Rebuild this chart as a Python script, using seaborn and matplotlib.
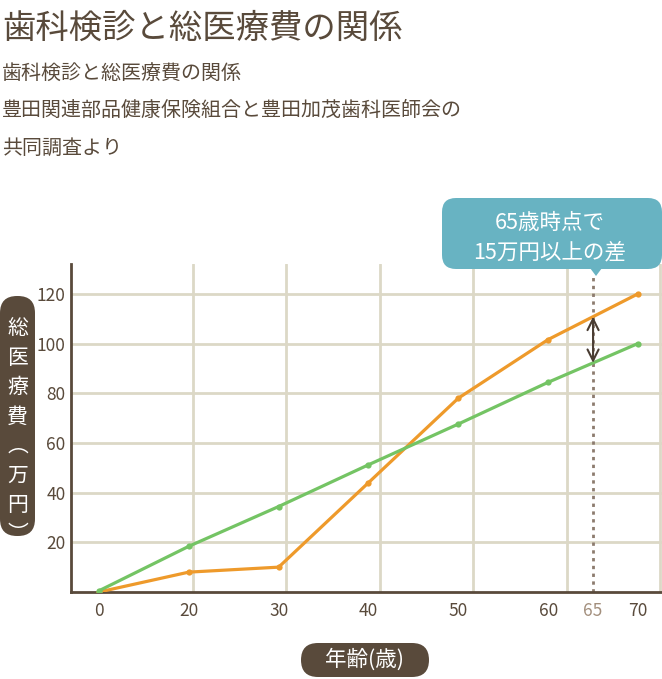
import numpy as np
import pandas as pd
import matplotlib.pyplot as plt
import seaborn as sns
from matplotlib.patches import FancyBboxPatch, Polygon

# data
ages = ['0', '20', '30', '40', '50', '60', '70']
cost_no_checkup = [0, 8, 10, 44, 78, 101.6, 120]
cost_checkup = [0.5, 18.4, 34.4, 51.2, 67.6, 84.4, 100]
yticks = [20, 40, 60, 80, 100, 120]
mark_age = '65'

title = '歯科検診と総医療費の関係'
subtitle = ['歯科検診と総医療費の関係',
            '豊田関連部品健康保険組合と豊田加茂歯科医師会の',
            '共同調査より']
ylabel = '総医療費（万円）'
xlabel = '年齢(歳)'
callout = ['65歳時点で', '15万円以上の差']

BROWN = '#594a3b'
ORANGE = '#ee9a2b'
GREEN = '#74c464'
TEAL = '#68b3c2'
GRID = '#dcd8c6'

sns.set_style('white')
plt.rcParams['font.family'] = ['Noto Sans CJK JP', 'DejaVu Sans']

W, H = 662, 679
fig = plt.figure(figsize=(W / 100, H / 100), dpi=100)
px = fig.dpi_scale_trans


def P(x, y):
    # pixel (top-left origin) -> inches
    return x / 100, (H - y) / 100


ax = fig.add_axes([71 / W, 1 - 592 / H, (W - 71) / W, (592 - 264) / H])

pos = np.arange(len(ages))
df = pd.DataFrame({'pos': np.concatenate([pos, pos]),
                   'cost': cost_no_checkup + cost_checkup,
                   'group': ['no'] * len(ages) + ['yes'] * len(ages)})

# the 65 line, drawn under the series
x65 = (pos[5] + pos[6]) / 2
ax.plot([x65, x65], [0, 127], color='#8c7b6e', lw=2, ls=(0, (1.2, 1.6)),
        zorder=2, clip_on=False)

sns.lineplot(data=df, x='pos', y='cost', hue='group',
             palette={'no': ORANGE, 'yes': GREEN}, marker='o',
             markersize=4.5, markeredgewidth=0, linewidth=2.3,
             legend=False, ax=ax, zorder=3)

# gap arrow at 65
o65 = np.interp(x65, pos, cost_no_checkup)
g65 = np.interp(x65, pos, cost_checkup)
ax.annotate('', xy=(x65, o65), xytext=(x65, g65),
            arrowprops=dict(arrowstyle='<->', color='#4a3d33', lw=1.5,
                            shrinkA=0, shrinkB=0, mutation_scale=20),
            zorder=4)

ax.set_xlim(-(99 - 71) / 89.83, (662 - 99) / 89.83)
ax.set_ylim(0, 132)

ax.set_xticks(list(pos[:6]) + [x65, pos[6]])
ax.set_xticklabels(ages[:6] + [mark_age, ages[6]])
ax.set_yticks(yticks)
ax.set_yticklabels([str(v) for v in yticks])
ax.tick_params(axis='both', length=0, labelsize=12.5, labelcolor=BROWN)
ax.tick_params(axis='x', pad=7)
ax.tick_params(axis='y', pad=4)
for lab in ax.get_xticklabels():
    if lab.get_text() == mark_age:
        lab.set_color('#a38f7d')

# decorative grid (its own spacing)
ax.set_xticks([k * 93.5 / 89.83 for k in range(7)], minor=True)
ax.grid(False)
ax.grid(True, which='minor', axis='x', color=GRID, lw=2)
ax.grid(True, which='major', axis='y', color=GRID, lw=2)
ax.set_axisbelow(True)

ax.set_xlabel('')
ax.set_ylabel('')
for s in ['top', 'right']:
    ax.spines[s].set_visible(False)
for s in ['left', 'bottom']:
    ax.spines[s].set_color(BROWN)
    ax.spines[s].set_linewidth(2)

# titles
fig.text(*P(2, 28), title, transform=px, fontsize=24, color=BROWN,
         va='center', ha='left')
for i, line in enumerate(subtitle):
    fig.text(*P(2, 73 + 37.5 * i), line, transform=px, fontsize=14.4,
             color=BROWN, va='center', ha='left')

# callout
fig.add_artist(FancyBboxPatch(P(442, 269), 220 / 100, 71 / 100,
                              boxstyle='round,pad=0,rounding_size=0.14',
                              transform=px, fc=TEAL, ec='none'))
fig.add_artist(Polygon([P(590, 268), P(602, 268), P(596, 276)], closed=True,
                       transform=px, fc=TEAL, ec='none'))
for i, line in enumerate(callout):
    fig.text(*P(550, 223 + 29.5 * i), line, transform=px, fontsize=15.5,
             color='white', ha='center', va='center')

# y label pill
fig.add_artist(FancyBboxPatch(P(0, 536), 35 / 100, 240 / 100,
                              boxstyle='round,pad=0,rounding_size=0.17',
                              transform=px, fc=BROWN, ec='none'))
vert = ylabel.replace('（', '\ufe35').replace('）', '\ufe36')
for i, ch in enumerate(vert):
    fig.text(*P(17.5, 328 + 29.5 * i), ch, transform=px, fontsize=15,
             color='white', ha='center', va='center')

# x label pill
fig.add_artist(FancyBboxPatch(P(301, 677), 128 / 100, 34 / 100,
                              boxstyle='round,pad=0,rounding_size=0.17',
                              transform=px, fc=BROWN, ec='none'))
fig.text(*P(365, 660), xlabel, transform=px, fontsize=15.5, color='white',
         ha='center', va='center')

fig.savefig('out.png', dpi=100)
